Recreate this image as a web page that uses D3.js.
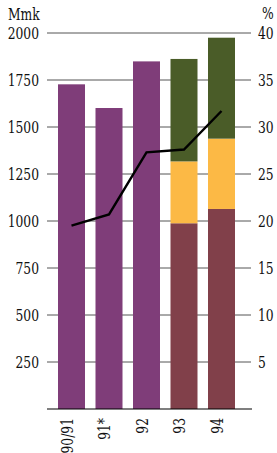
<!DOCTYPE html>
<html>
<head>
<meta charset="utf-8">
<script src="https://cdn.jsdelivr.net/npm/d3@7"></script>
<style>
  body { margin: 0; background: #fff; }
</style>
</head>
<body>
<div id="chart"></div>
<script>
// years on the x axis
const years = ["90/91", "91*", "92", "93", "94"];
// bar totals (Mmk) - single purple bars for first three years
const totalMmk = [1727, 1601, 1849, 1862, 1975];
// stacked parts for 93 and 94
const partMaroon = [0, 0, 0, 988, 1064];
const partOrange = [0, 0, 0, 329, 374];
// percent line (right axis)
const percent = [19.5, 20.7, 27.3, 27.6, 31.7];

const leftTicks = [250, 500, 750, 1000, 1250, 1500, 1750, 2000];
const rightTicks = [5, 10, 15, 20, 25, 30, 35, 40];

const serif = "'DejaVu Serif', serif";
const sx = 0.77; // squeeze the wide serif to look like the narrow Times

let w = 277, h = 453;

let svg = d3.select("#chart").append("svg")
  .attr("width", w).attr("height", h);

let x = d3.scaleBand().domain(years).range([52.75, 240.25])
  .paddingInner(0.28).paddingOuter(0.14);
let y = d3.scaleLinear().domain([0, 2000]).range([409, 33]);
let yR = d3.scaleLinear().domain([0, 40]).range([409, 33]);

// gridlines
svg.selectAll("line.grid")
  .data(leftTicks)
  .join("line")
  .attr("class", "grid")
  .attr("x1", 47).attr("x2", 251)
  .attr("y1", d => y(d)).attr("y2", d => y(d))
  .style("stroke", "#555").style("stroke-width", 1);

// bars - build segments
let segs = [];
years.forEach((yr, i) => {
  if (partMaroon[i] === 0) {
    segs.push({yr: yr, y0: 0, y1: totalMmk[i], c: "#7f3d79"});
  } else {
    let a = partMaroon[i], b = a + partOrange[i];
    segs.push({yr: yr, y0: 0, y1: a, c: "#81404a"});
    segs.push({yr: yr, y0: a, y1: b, c: "#fcb945"});
    segs.push({yr: yr, y0: b, y1: totalMmk[i], c: "#4a5c28"});
  }
});

svg.selectAll("rect.bar")
  .data(segs)
  .join("rect")
  .attr("class", "bar")
  .attr("x", d => x(d.yr))
  .attr("width", x.bandwidth())
  .attr("y", d => y(d.y1))
  .attr("height", d => y(d.y0) - y(d.y1))
  .style("fill", d => d.c);

// baseline
svg.append("line")
  .attr("x1", 47).attr("x2", 252)
  .attr("y1", y(0)).attr("y2", y(0))
  .style("stroke", "#000").style("stroke-width", 1.2);

// percent line
let line = d3.line()
  .x((d, i) => x(years[i]) + x.bandwidth() / 2)
  .y(d => yR(d));
svg.append("path")
  .datum(percent)
  .attr("d", line)
  .style("fill", "none")
  .style("stroke", "#000")
  .style("stroke-width", 2.4);

function txt(sel) {
  return sel.style("font-family", serif)
    .style("font-size", "16px").style("fill", "#111");
}

// left axis labels
txt(svg.selectAll("text.lt")
  .data(leftTicks)
  .join("text")
  .attr("class", "lt")
  .attr("transform", d => "translate(39," + y(d) + ") scale(" + sx + ",1)")
  .attr("dy", "0.36em")
  .attr("text-anchor", "end")
  .text(d => d));

// right axis labels
txt(svg.selectAll("text.rt")
  .data(rightTicks)
  .join("text")
  .attr("class", "rt")
  .attr("transform", d => "translate(258," + yR(d) + ") scale(" + sx + ",1)")
  .attr("dy", "0.36em")
  .text(d => d));

// units
txt(svg.append("text").attr("transform", "translate(8,20) scale(" + sx + ",1)").text("Mmk"));
txt(svg.append("text").attr("transform", "translate(262,19) scale(" + sx + ",1)").text("%"));

// x labels rotated
txt(svg.selectAll("text.xl")
  .data(years)
  .join("text")
  .attr("class", "xl")
  .attr("transform", d => "translate(" + (x(d) + x.bandwidth() / 2 + 1) + ",418) rotate(-90) scale(" + sx + ",1)")
  .attr("text-anchor", "end")
  .text(d => d));
</script>
</body>
</html>
